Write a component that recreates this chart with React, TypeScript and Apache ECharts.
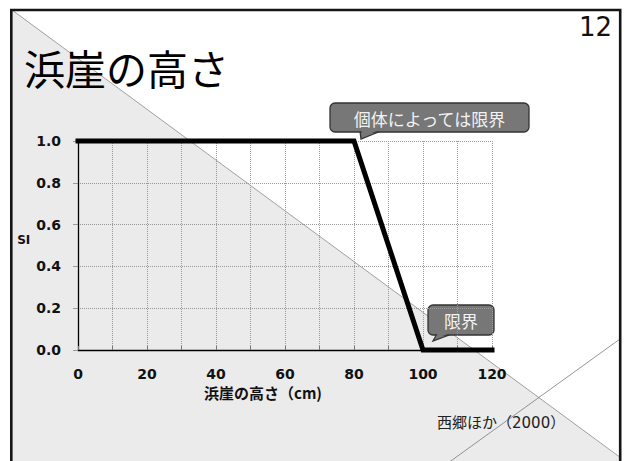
import React, { useEffect, useRef } from "react";
import * as echarts from "echarts";

// Suitability index (SI) against beach-cliff height (cm)
const cliffHeights = [0, 80, 100, 120];
const siValues = [1.0, 1.0, 0.0, 0.0];

const xTicks = [0, 20, 40, 60, 80, 100, 120];
const yTicks = [0.0, 0.2, 0.4, 0.6, 0.8, 1.0];

const titleText = "浜崖の高さ";
const pageNumber = "12";
const xAxisTitle = "浜崖の高さ（cm)";
const yAxisTitle = "SI";
const noteUpper = "個体によっては限界";
const noteLower = "限界";
const sourceText = "西郷ほか（2000）";

const CJK = '"Noto Sans CJK JP", "Noto Sans", sans-serif';
const NUM = '"DejaVu Sans", "Open Sans", sans-serif';

export default function App() {
  const ref = useRef<HTMLDivElement>(null);

  useEffect(() => {
    if (!ref.current) return;
    const chart = echarts.init(ref.current, null, { renderer: "svg" });

    const dotted = { color: "#9a9a9a", width: 1, type: [1, 1] as number[] };

    const option: echarts.EChartsOption = {
      animation: false,
      backgroundColor: "#ffffff",
      grid: { left: 78, right: 136, top: 141, bottom: 111, containLabel: false },
      xAxis: {
        type: "value",
        min: xTicks[0],
        max: xTicks[xTicks.length - 1],
        interval: 20,
        axisLine: { show: true, onZero: false, lineStyle: { color: "#000", width: 1.3 } },
        axisTick: { show: true, inside: true, length: 4, lineStyle: { color: "#777" } },
        minorTick: { show: true, splitNumber: 2, length: 4, lineStyle: { color: "#777" } },
        splitLine: { show: true, lineStyle: dotted },
        minorSplitLine: { show: true, lineStyle: dotted },
        axisLabel: {
          margin: 17,
          color: "#111",
          fontFamily: NUM,
          fontWeight: "bold",
          fontSize: 14,
        },
        name: xAxisTitle,
        nameLocation: "middle",
        nameGap: 35,
        nameTextStyle: {
          color: "#111",
          fontFamily: CJK,
          fontWeight: "bold",
          fontSize: 15,
          padding: [0, 44, 0, 0],
        },
      },
      yAxis: {
        type: "value",
        min: yTicks[0],
        max: yTicks[yTicks.length - 1],
        interval: 0.2,
        axisLine: { show: true, lineStyle: { color: "#000", width: 1.3 } },
        axisTick: { show: true, length: 5, lineStyle: { color: "#999" } },
        splitLine: { show: true, lineStyle: dotted },
        axisLabel: {
          margin: 17,
          color: "#111",
          fontFamily: NUM,
          fontWeight: "bold",
          fontSize: 14,
          formatter: (v: number) => v.toFixed(1),
        },
        name: yAxisTitle,
        nameLocation: "middle",
        nameRotate: 0,
        nameGap: 43,
        nameTextStyle: {
          color: "#111",
          fontFamily: NUM,
          fontWeight: "bold",
          fontSize: 12,
          verticalAlign: "bottom",
        },
      },
      series: [
        {
          type: "line",
          data: cliffHeights.map((h, i) => [h, siValues[i]]),
          symbol: "none",
          clip: false,
          z: 5,
          lineStyle: { color: "#000", width: 5, join: "miter", cap: "square" },
        },
      ],
      graphic: [
        // slide background: grey wedge below the diagonal
        {
          type: "polygon",
          z: -10,
          silent: true,
          shape: { points: [[12, 10], [621, 458], [621, 470], [12, 470]] },
          style: { fill: "#ebebeb" },
        },
        {
          type: "line",
          z: -9,
          silent: true,
          shape: { x1: 12, y1: 10, x2: 621, y2: 458 },
          style: { stroke: "#8a8a8a", lineWidth: 0.8 },
        },
        {
          type: "line",
          z: -9,
          silent: true,
          shape: { x1: 448, y1: 463, x2: 620, y2: 339 },
          style: { stroke: "#7a7a7a", lineWidth: 0.8 },
        },
        // slide frame
        {
          type: "rect",
          z: 20,
          silent: true,
          shape: { x: 11.3, y: 10, width: 608.9, height: 470 },
          style: { fill: "none", stroke: "#151515", lineWidth: 2.6 },
        },
        {
          type: "text",
          z: 20,
          x: 24,
          y: 67,
          style: {
            text: titleText,
            font: `41px ${CJK}`,
            fill: "#000",
            textVerticalAlign: "middle",
          },
        },
        {
          type: "text",
          z: 20,
          x: 612,
          y: 27,
          style: {
            text: pageNumber,
            font: `26px "Liberation Sans Narrow", "DejaVu Sans", sans-serif`,
            fill: "#111",
            textAlign: "right",
            textVerticalAlign: "middle",
          },
        },
        // callout: 個体によっては限界
        {
          type: "group",
          z: 30,
          children: [
            {
              type: "polygon",
              shape: { points: [[360, 131], [381, 131], [361, 139]] },
              style: { fill: "#777", stroke: "#333", lineWidth: 1.3 },
            },
            {
              type: "rect",
              shape: { x: 330, y: 103, width: 199, height: 29, r: 5 },
              style: { fill: "#777", stroke: "#333", lineWidth: 1.3 },
            },
            {
              type: "polygon",
              shape: { points: [[361.5, 130], [379, 130], [362, 137]] },
              style: { fill: "#777" },
            },
            {
              type: "text",
              x: 429.5,
              y: 118,
              style: {
                text: noteUpper,
                font: `17px ${CJK}`,
                fill: "#f2f2f2",
                textAlign: "center",
                textVerticalAlign: "middle",
              },
            },
          ],
        },
        // callout: 限界
        {
          type: "group",
          z: 30,
          children: [
            {
              type: "polygon",
              shape: { points: [[437, 334], [452, 334], [433, 341]] },
              style: { fill: "#777", stroke: "#333", lineWidth: 1.3 },
            },
            {
              type: "rect",
              shape: { x: 428, y: 305, width: 66, height: 30, r: 5 },
              style: { fill: "#777", stroke: "#333", lineWidth: 1.3 },
            },
            {
              type: "polygon",
              shape: { points: [[438, 333], [450, 333], [435, 339]] },
              style: { fill: "#777" },
            },
            {
              type: "text",
              x: 461,
              y: 320,
              style: {
                text: noteLower,
                font: `17px ${CJK}`,
                fill: "#f2f2f2",
                textAlign: "center",
                textVerticalAlign: "middle",
              },
            },
          ],
        },
        {
          type: "text",
          z: 20,
          x: 437,
          y: 423,
          style: {
            text: sourceText,
            font: `15px "DejaVu Sans", ${CJK}`,
            fill: "#222",
            textVerticalAlign: "middle",
          },
        },
      ],
    };

    chart.setOption(option);
    return () => chart.dispose();
  }, []);

  return (
    <div
      ref={ref}
      style={{ position: "absolute", left: 0, top: 0, width: 628, height: 461 }}
    />
  );
}
